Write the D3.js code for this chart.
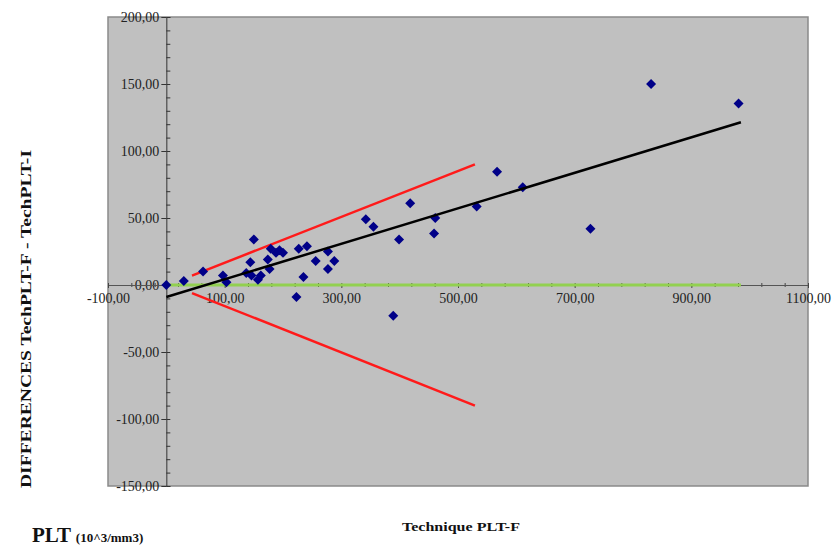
<!DOCTYPE html>
<html>
<head>
<meta charset="utf-8">
<script src="https://cdn.jsdelivr.net/npm/d3@7.9.0/dist/d3.min.js"></script>
<style>
  body { margin: 0; background: #fff; }
  svg { display: block; }
</style>
</head>
<body>
<svg id="chart" width="832" height="547"></svg>
<script>
// Platelet counts (Technique PLT-F) vs differences PLT-F - PLT-I
const xVals = [0, 30, 63, 97, 103, 137, 144, 146, 150, 157, 162, 174, 177, 179, 188, 194, 200,
  223, 227, 235, 241, 256, 277, 277, 288, 342, 355, 389, 399, 418, 459, 461, 532, 567, 611, 727, 831, 981];
const yVals = [0, 3, 10, 7, 2, 9, 17, 7, 34, 4, 7, 19, 12, 27, 24, 26, 24,
  -9, 27, 6, 29, 18, 25, 12, 18, 49, 43.5, -23, 34, 61, 38.5, 50, 58.5, 84.5, 73, 42, 150, 135.5];

// reference lines [x1, y1, x2, y2]
const zeroLine = [0, 0, 985, 0];
const regLine = [0, -9, 985, 121.5];
const upperLine = [44, 7, 529, 90];
const lowerLine = [44, -6, 529, -90];

const xTicks = [-100, 100, 300, 500, 700, 900, 1100];
const yTicks = [-150, -100, -50, 0, 50, 100, 150, 200];

const serif = "'Liberation Serif', 'Times New Roman', serif";
const svg = d3.select("#chart");
// French style: comma decimal, plain hyphen for negatives
const fmt = d => d.toFixed(2).replace(".", ",");

const x = d3.scaleLinear().domain([-100, 1100]).range([108, 808]);
const y = d3.scaleLinear().domain([-150, 200]).range([486, 17]);

// plot area
svg.append("rect")
  .attr("x", x(-100)).attr("y", y(200))
  .attr("width", x(1100) - x(-100)).attr("height", y(-150) - y(200))
  .attr("fill", "#c0c0c0")
  .attr("stroke", "#8a8a8a")
  .attr("stroke-width", 1.5);

// y axis (sits at x = 0)
const yMinor = svg.append("g")
  .attr("transform", `translate(${x(0)},0)`)
  .call(d3.axisRight(y).tickValues(d3.range(-150, 201, 10)).tickSize(4).tickFormat(""));
yMinor.select(".domain").attr("stroke", "#333");
yMinor.selectAll(".tick line").attr("stroke", "#333");

const yAxis = svg.append("g")
  .attr("transform", `translate(${x(0)},0)`)
  .call(d3.axisLeft(y).tickValues(yTicks).tickSize(5).tickSizeOuter(0).tickPadding(2).tickFormat(fmt));
yAxis.attr("font-family", serif);
yAxis.select(".domain").remove();
yAxis.selectAll(".tick line").attr("stroke", "#333");
yAxis.selectAll(".tick text")
  .attr("font-family", serif).attr("font-size", 14).attr("fill", "#222");

// x axis (sits at y = 0)
const xMinor = svg.append("g")
  .attr("transform", `translate(0,${y(0) - 2})`)
  .call(d3.axisBottom(x).tickValues(d3.range(-100, 1101, 40)).tickSize(4).tickFormat(""));
xMinor.select(".domain").remove();
xMinor.selectAll(".tick line").attr("stroke", "#444");

const xAxis = svg.append("g")
  .attr("transform", `translate(0,${y(0)})`)
  .call(d3.axisBottom(x).tickValues(xTicks).tickSize(3).tickSizeOuter(0).tickPadding(5).tickFormat(fmt));
xAxis.attr("font-family", serif);
xAxis.select(".domain").attr("stroke", "#555");
xAxis.selectAll(".tick line").attr("stroke", "#444");
xAxis.selectAll(".tick text")
  .attr("font-family", serif).attr("font-size", 14).attr("fill", "#222");

// reference lines
function seg(l, color, w) {
  svg.append("line")
    .attr("x1", x(l[0])).attr("y1", y(l[1]))
    .attr("x2", x(l[2])).attr("y2", y(l[3]))
    .attr("stroke", color).attr("stroke-width", w);
}
seg(zeroLine, "#92d050", 3);
seg(upperLine, "#ff1a1a", 2.5);
seg(lowerLine, "#ff1a1a", 2.5);

// data points (diamonds)
svg.append("g")
  .selectAll("path")
  .data(xVals.map((d, i) => [d, yVals[i]]))
  .join("path")
  .attr("d", d3.symbol(d3.symbolSquare, 50))
  .attr("transform", d => `translate(${x(d[0])},${y(d[1])}) rotate(45)`)
  .attr("fill", "#000088");

seg(regLine, "#000", 2.5);

// axis titles
svg.append("text")
  .attr("transform", "translate(31,319) rotate(-90)")
  .attr("text-anchor", "middle")
  .attr("font-family", serif).attr("font-weight", "bold").attr("font-size", 14)
  .attr("textLength", 338).attr("lengthAdjust", "spacingAndGlyphs")
  .attr("fill", "#111")
  .text("DIFFERENCES TechPLT-F - TechPLT-I");

svg.append("text")
  .attr("x", 461).attr("y", 531)
  .attr("text-anchor", "middle")
  .attr("font-family", serif).attr("font-weight", "bold").attr("font-size", 13)
  .attr("textLength", 118).attr("lengthAdjust", "spacingAndGlyphs")
  .attr("fill", "#111")
  .text("Technique PLT-F");

const plt = svg.append("text")
  .attr("x", 32).attr("y", 542)
  .attr("font-family", serif).attr("font-weight", "bold")
  .attr("fill", "#111");
plt.append("tspan").attr("font-size", 21).text("PLT ");
plt.append("tspan").attr("font-size", 13).text("(10^3/mm3)");
</script>
</body>
</html>
